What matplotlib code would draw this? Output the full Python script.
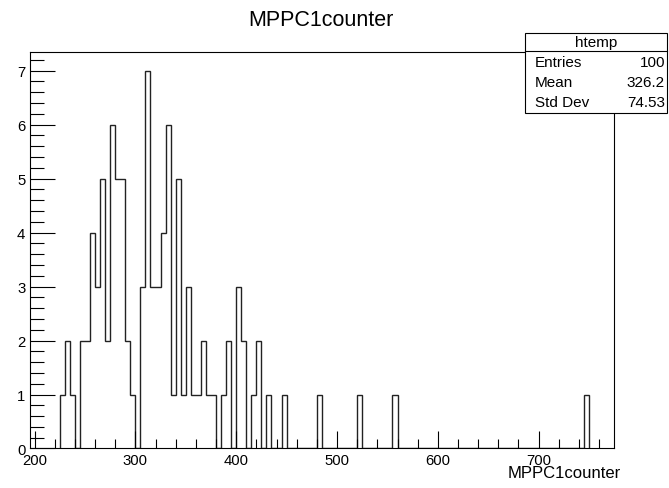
import numpy as np
import matplotlib.pyplot as plt
from matplotlib.patches import Rectangle
from matplotlib.lines import Line2D
from matplotlib.ticker import MultipleLocator

plt.rcParams['font.family'] = ['Liberation Sans', 'DejaVu Sans']

# histogram data (ROOT htemp, bin width 5)
x_low = 195
x_high = 775
bin_width = 5
first_edge = 225
counts = [1, 2, 1, 0, 2, 2, 4, 3, 5, 2, 6, 5, 5, 2, 1, 0, 3, 7, 3, 3,
          4, 6, 1, 5, 1, 3, 1, 1, 2, 1, 1, 0, 1, 2, 0, 3, 2, 0, 1, 2,
          0, 1, 0, 0, 1, 0, 0, 0, 0, 0, 0, 1, 0, 0, 0, 0, 0, 0, 0, 1,
          0, 0, 0, 0, 0, 0, 1, 0, 0, 0, 0, 0, 0, 0, 0, 0, 0, 0, 0, 0,
          0, 0, 0, 0, 0, 0, 0, 0, 0, 0, 0, 0, 0, 0, 0, 0, 0, 0, 0, 0,
          0, 0, 0, 0, 1]
stat_names = ["Entries", "Mean", "Std Dev"]
stat_values = ["100", "326.2", "74.53"]

edges = first_edge + bin_width * np.arange(len(counts) + 1)

fig = plt.figure(figsize=(6.69, 4.89), dpi=100)
ax = fig.add_axes([0.0441, 0.0808, 0.8741, 0.8114])

ax.stairs(counts, edges, color='#222222', linewidth=1.0, baseline=0)
ax.set_xlim(x_low, x_high)
ax.set_ylim(0, max(counts) * 1.05)

for s in ax.spines.values():
    s.set_linewidth(0.8)
    s.set_color('black')

ax.xaxis.set_major_locator(MultipleLocator(100))
ax.xaxis.set_minor_locator(MultipleLocator(20))
ax.yaxis.set_major_locator(MultipleLocator(1))
ax.yaxis.set_minor_locator(MultipleLocator(0.2))
ax.tick_params(axis='x', which='major', direction='in', length=12, width=0.8,
               labelsize=10.7, pad=3)
ax.tick_params(axis='x', which='minor', direction='in', length=6.5, width=0.8)
ax.tick_params(axis='y', which='major', direction='in', length=18, width=0.8,
               labelsize=10.7, pad=3)
ax.tick_params(axis='y', which='minor', direction='in', length=10, width=0.8)

fig.text(0.48, 0.959, "MPPC1counter", ha='center', va='center', fontsize=15.5)
fig.text(0.928, 0.0307, "MPPC1counter", ha='right', va='center', fontsize=12)

# stats box
box = Rectangle((0.7848, 0.7669), 0.997 - 0.7848, 0.9305 - 0.7669,
                transform=fig.transFigure, facecolor='white', edgecolor='black',
                linewidth=0.8, zorder=10)
fig.add_artist(box)
fig.add_artist(Line2D([0.7848, 0.997], [0.8943, 0.8943], transform=fig.transFigure,
                      color='black', linewidth=0.8, zorder=11))
fig.text(0.8909, 0.912, "htemp", ha='center', va='center', fontsize=11, zorder=12)
rows_y = [0.871, 0.830, 0.789]
for name, val, yy in zip(stat_names, stat_values, rows_y):
    fig.text(0.7997, yy, name, ha='left', va='center', fontsize=11, zorder=12)
    fig.text(0.994, yy, val, ha='right', va='center', fontsize=11, zorder=12)

fig.savefig("out.png", dpi=100)
